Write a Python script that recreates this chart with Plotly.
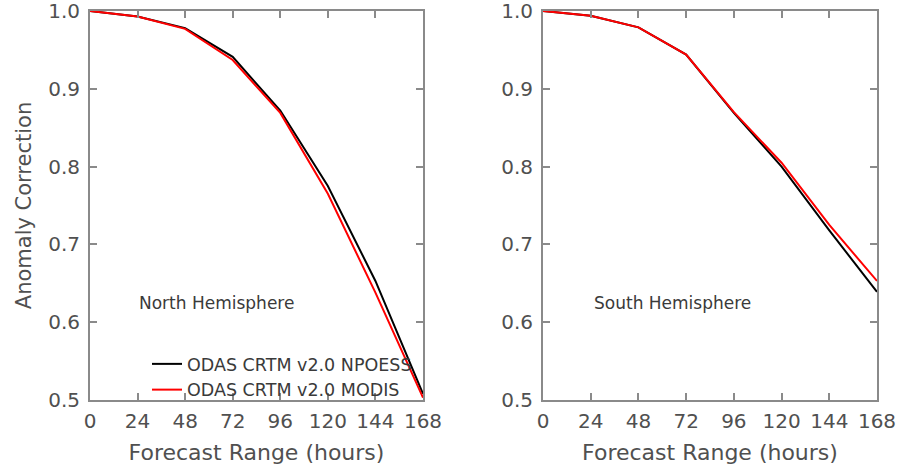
import plotly.graph_objects as go
from plotly.subplots import make_subplots

hours = [0, 24, 48, 72, 96, 120, 144, 168]

# North Hemisphere anomaly correlation
nh_npoess = [1.000, 0.993, 0.978, 0.941, 0.872, 0.775, 0.653, 0.508]
nh_modis = [1.000, 0.993, 0.977, 0.937, 0.869, 0.765, 0.638, 0.503]

# South Hemisphere anomaly correlation
sh_npoess = [1.000, 0.994, 0.979, 0.944, 0.869, 0.800, 0.718, 0.639]
sh_modis = [1.000, 0.994, 0.979, 0.944, 0.870, 0.805, 0.725, 0.653]

series_names = ["ODAS CRTM v2.0 NPOESS", "ODAS CRTM v2.0 MODIS"]
series_colors = ["#000000", "#ff0000"]

y_ticks = [0.5, 0.6, 0.7, 0.8, 0.9, 1.0]
y_ticklabels = ["0.5", "0.6", "0.7", "0.8", "0.9", "1.0"]

W, H = 913, 469
FONT = "DejaVu Sans"
TEXT = "#505050"
AXIS = "#8a8a8a"

# plot area in pixels
ML, MR, MT, MB = 90, W - 877, 11, H - 400
PW = W - ML - MR
PH = H - MT - MB
left_px = [(90, 423), (543, 877)]

fig = make_subplots(rows=1, cols=2)

panels = [(nh_npoess, nh_modis, 1), (sh_npoess, sh_modis, 2)]
for a, b, col in panels:
    for vals, name, color in zip((a, b), series_names, series_colors):
        fig.add_trace(
            go.Scatter(
                x=hours, y=vals, mode="lines", name=name,
                line=dict(color=color, width=2),
                showlegend=(col == 1),
            ),
            row=1, col=col,
        )

axis_common = dict(
    showgrid=False, zeroline=False, showline=True, mirror="ticks",
    linecolor=AXIS, linewidth=2, ticks="inside", ticklen=7,
    tickcolor=AXIS, tickwidth=1.5, ticklabeloverflow="allow",
    tickfont=dict(family=FONT, size=20, color=TEXT),
)
for i, (x0, x1) in enumerate(left_px, start=1):
    xa = "xaxis" if i == 1 else f"xaxis{i}"
    ya = "yaxis" if i == 1 else f"yaxis{i}"
    fig.layout[xa].update(
        domain=[(x0 - ML) / PW, (x1 - ML) / PW], range=[0, 168],
        tickvals=hours, ticktext=[str(h) for h in hours],
        ticklabelstandoff=2,
        title=dict(text="Forecast Range (hours)",
                   font=dict(family=FONT, size=22, color=TEXT), standoff=13),
        **axis_common,
    )
    fig.layout[ya].update(
        domain=[0, 1], range=[0.5, 1.0],
        tickvals=y_ticks, ticktext=y_ticklabels,
        ticklabelstandoff=4,
        **axis_common,
    )

fig.layout.yaxis.title = dict(
    text="Anomaly Correction",
    font=dict(family=FONT, size=21, color=TEXT), standoff=11,
)

fig.add_annotation(
    text="North Hemisphere", xref="paper", yref="paper",
    x=(137 - ML) / PW, y=1 - (303 - MT) / PH,
    xanchor="left", yanchor="middle",
    showarrow=False, font=dict(family=FONT, size=17, color="#3a3a3a"),
)
fig.add_annotation(
    text="South Hemisphere", xref="paper", yref="paper",
    x=(592 - ML) / PW, y=1 - (303 - MT) / PH,
    xanchor="left", yanchor="middle",
    showarrow=False, font=dict(family=FONT, size=17, color="#3a3a3a"),
)

fig.update_layout(
    width=W, height=H,
    margin=dict(l=ML, r=MR, t=MT, b=MB, autoexpand=False),
    paper_bgcolor="white", plot_bgcolor="white",
    legend=dict(
        x=(147 - ML) / PW, y=1 - (346 - MT) / PH,
        xanchor="left", yanchor="top",
        bgcolor="rgba(0,0,0,0)", tracegroupgap=0,
        font=dict(family=FONT, size=17.5, color="#3a3a3a"),
        itemwidth=30,
    ),
)

fig.write_html("out.html")
